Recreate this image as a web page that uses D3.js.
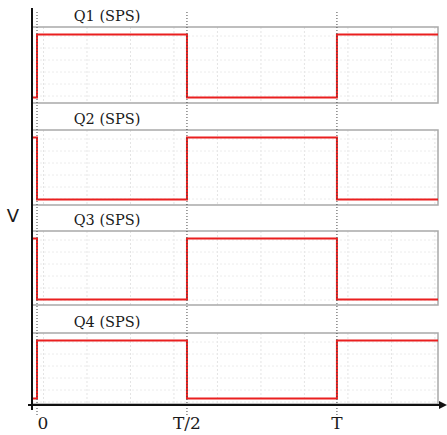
<!DOCTYPE html>
<html>
<head>
<meta charset="utf-8">
<script src="https://cdn.jsdelivr.net/npm/d3@7"></script>
<style>
  body { margin: 0; background: white; }
</style>
</head>
<body>
<div id="container"></div>
<script>
let w = 447;
let h = 435;

// DATA (time in units of T, value 1 = high / 0 = low)
let signalNames = ["Q1 (SPS)", "Q2 (SPS)", "Q3 (SPS)", "Q4 (SPS)"];
let switchTimes = [-0.0167, 0, 0.5, 1, 1.337];
let q1Values = [0, 1, 0, 1, 1];
let q2Values = [1, 0, 1, 0, 0];
let q3Values = [1, 0, 1, 0, 0];
let q4Values = [0, 1, 0, 1, 1];
let tickTimes = [0, 0.5, 1];
let tickLabels = ["0", "T/2", "T"];

let allValues = [q1Values, q2Values, q3Values, q4Values];

let viz = d3.select("#container").append("svg")
    .attr("width", w)
    .attr("height", h)
    .style("background-color", "white");

// SCALES
let xScale = d3.scaleLinear().domain([-0.0167, 1.337]).range([32, 438]);
let panelTops = [27, 130, 231, 333];
let panelHeights = [76, 75, 74, 71];

// panels
signalNames.forEach(function(name, i){
  let top = panelTops[i];
  let panelH = panelHeights[i];
  let yScale = d3.scaleLinear().domain([0, 1]).range([top + panelH - 5.5, top + 7.5]);
  let g = viz.append("g");

  // faint grid
  let gridX = d3.range(xScale.invert(43.5), 1.337, 0.145);
  g.selectAll(".gx").data(gridX).enter().append("line")
    .attr("x1", d => xScale(d)).attr("x2", d => xScale(d))
    .attr("y1", top).attr("y2", top + panelH)
    .attr("stroke", "#e4e4e4").attr("stroke-width", 1)
    .attr("stroke-dasharray", "2,2");
  let gridY = d3.range(top + 9, top + panelH, 12);
  g.selectAll(".gy").data(gridY).enter().append("line")
    .attr("x1", 32).attr("x2", 438)
    .attr("y1", d => d).attr("y2", d => d)
    .attr("stroke", "#ececec").attr("stroke-width", 1)
    .attr("stroke-dasharray", "2,2");

  // border
  g.append("rect")
    .attr("x", 32).attr("y", top)
    .attr("width", 406).attr("height", panelH)
    .attr("fill", "none")
    .attr("stroke", "#a9a9a9")
    .attr("stroke-width", 1.5);

  // title
  g.append("text")
    .text(name)
    .attr("x", 107).attr("y", top - 6)
    .attr("text-anchor", "middle")
    .style("font-family", "'DejaVu Serif', serif")
    .style("font-size", "14.5px")
    .attr("fill", "#1a1a1a");

  // signal
  let pts = switchTimes.map(function(t, j){ return {t: t, v: allValues[i][j]}; });
  let lineMaker = d3.line()
    .x(d => xScale(d.t))
    .y(d => yScale(d.v))
    .curve(d3.curveStepAfter);
  g.append("path")
    .datum(pts)
    .attr("d", lineMaker)
    .attr("fill", "none")
    .attr("stroke", "#ea1f1f")
    .attr("stroke-width", 2);
});

// dotted time markers
viz.selectAll(".marker").data(tickTimes).enter().append("line")
  .attr("x1", d => xScale(d)).attr("x2", d => xScale(d))
  .attr("y1", 12).attr("y2", 416)
  .attr("stroke", "#444")
  .attr("stroke-width", 1)
  .attr("stroke-dasharray", "1,2");

// axes
viz.append("line")
  .attr("x1", 32).attr("x2", 32)
  .attr("y1", 8).attr("y2", 410)
  .attr("stroke", "#111").attr("stroke-width", 2);
viz.append("line")
  .attr("x1", 28).attr("x2", 441)
  .attr("y1", 405).attr("y2", 405)
  .attr("stroke", "#111").attr("stroke-width", 2);
viz.append("path")
  .attr("d", "M447,405 L439,401 L439,409 Z")
  .attr("fill", "#111");

// tick labels
viz.selectAll(".tick").data(tickTimes).enter().append("text")
  .text((d, i) => tickLabels[i])
  .attr("x", (d, i) => xScale(d) + (i == 0 ? 6 : 0))
  .attr("y", 429)
  .attr("text-anchor", "middle")
  .style("font-family", "'DejaVu Serif', serif")
  .style("font-size", "17px")
  .attr("fill", "#1a1a1a");

viz.append("text")
  .text("V")
  .attr("x", 13).attr("y", 222)
  .attr("text-anchor", "middle")
  .style("font-family", "'DejaVu Sans', sans-serif")
  .style("font-size", "18px")
  .attr("fill", "#1a1a1a");
</script>
</body>
</html>
